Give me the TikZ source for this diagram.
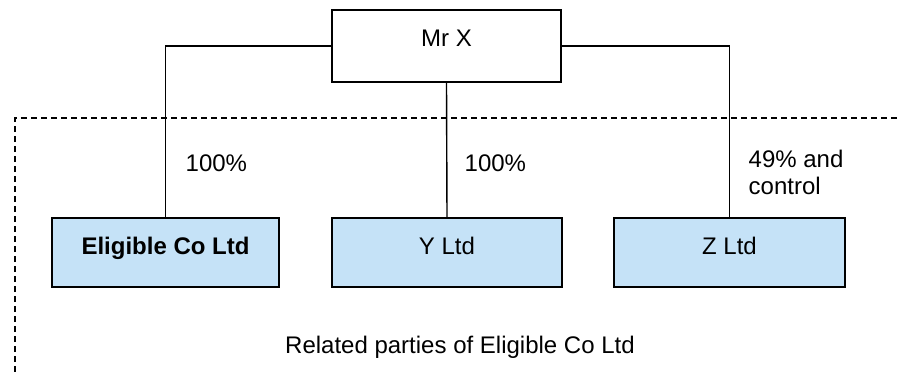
\documentclass[tikz,border=0pt]{standalone}
\usepackage{fontspec}
\setmainfont{Liberation Sans}
\definecolor{boxblue}{RGB}{197,226,247}
\tikzset{
  every node/.style={font=\fontsize{24}{27}\selectfont, inner sep=0pt},
  ownerbox/.style={draw=black, line width=1.4pt, fill=white, minimum width=229pt, minimum height=72pt, text height=9pt, text depth=7.6pt},
  cobox/.style={draw=black, line width=1.4pt, fill=boxblue, minimum height=69pt, text height=10pt, text depth=6.4pt},
  link/.style={line width=1.4pt},
  border/.style={line width=1.2pt, dash pattern=on 6pt off 4pt},
  pct/.style={anchor=base west, align=left}
}
\begin{document}
\begin{tikzpicture}[x=1pt,y=-1pt]
\useasboundingbox (0,0) rectangle (900,372);
% dashed boundary
\coordinate (db) at (15,372);
\coordinate (dc) at (15,118);
\coordinate (dr) at (900,118);
\draw[border] (db) -- (dc) -- (dr);
% boxes
\node[ownerbox] (mrx) at (446.5,46) {Mr X};
\node[cobox, minimum width=227pt] (elig) at (165.5,252.5) {\bfseries Eligible Co Ltd};
\node[cobox, minimum width=230pt] (yltd) at (447,252.5) {Y Ltd};
\node[cobox, minimum width=231pt] (zltd) at (729.5,252.5) {Z Ltd};
% connectors
\draw[link] (mrx.west) -| (elig.north);
\draw[link] (mrx.south) -- (yltd.north);
\draw[link] (mrx.east) -| (zltd.north);
% labels
\node[pct] (p1) at (185.5,171) {100\%};
\node[pct] (p2) at (464.5,171) {100\%};
\node[pct] (p3) at (748.5,194) {49\% and\\control};
\node[anchor=base west] (rel) at (285,353) {Related parties of Eligible Co Ltd};
\end{tikzpicture}
\end{document}
